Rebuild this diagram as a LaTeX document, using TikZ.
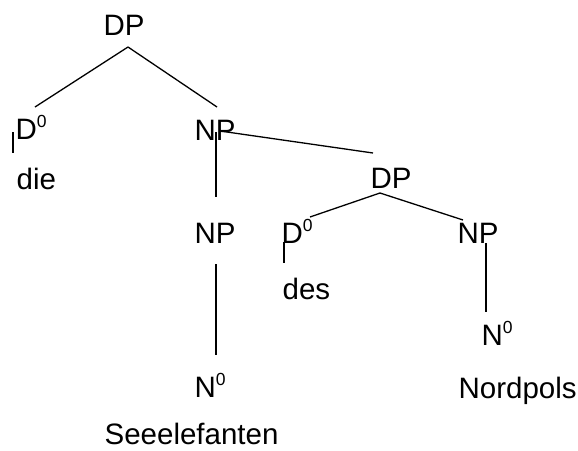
\documentclass[tikz,border=0pt]{standalone}
\usepackage{fontspec}
\setmainfont{Liberation Sans}
\usetikzlibrary{positioning}
\newcommand{\nullsup}{\raisebox{12pt}{\fontsize{17.5}{17.5}\selectfont 0}}

\begin{document}
\begin{tikzpicture}[x=1pt,y=-1pt,
    cat/.style={inner sep=0pt,anchor=base west,font=\fontsize{29.5}{35}\selectfont},
    every path/.style={line width=1.3pt}]
  \useasboundingbox (0,0) rectangle (578,450);

  \node[cat] (dpA)  at (103,35)  {DP};
  \node[cat] (dA)   at (15,139)  {D\nullsup};
  \node[cat] (npA)  at (194,140) {NP};
  \node[cat] (dieA) at (16,189)  {die};
  \node[cat] (npB)  at (194,243) {NP};
  \node[cat] (nA)   at (194,397) {N\nullsup};
  \node[cat] (seeA) at (104,444) {Seeelefanten};
  \node[cat] (dpB)  at (370,188) {DP};
  \node[cat] (dB)   at (281,243) {D\nullsup};
  \node[cat] (npC)  at (457,243) {NP};
  \node[cat] (desA) at (282,299) {des};
  \node[cat] (nB)   at (481,345) {N\nullsup};
  \node[cat] (nordA) at (458,398) {Nordpols};

  \draw ([shift={(25,12)}]dpA.base west) -- ([shift={(20,-32)}]dA.base west);
  \draw ([shift={(25,12)}]dpA.base west) -- ([shift={(23,-33)}]npA.base west);
  \draw ([shift={(-2,-7)}]dA.base west) -- ([shift={(-3,-36)}]dieA.base west);
  \draw ([shift={(22,-8)}]npA.base west) -- ([shift={(22,-46)}]npB.base west);
  \draw ([shift={(26,-9)}]npA.base west) -- ([shift={(3,-35)}]dpB.base west);
  \draw ([shift={(22,21)}]npB.base west) -- ([shift={(22,-42)}]nA.base west);
  \draw ([shift={(10,5)}]dpB.base west) -- ([shift={(29,-26)}]dB.base west);
  \draw ([shift={(10,5)}]dpB.base west) -- ([shift={(6,-23)}]npC.base west);
  \draw ([shift={(3,-1)}]dB.base west) -- ([shift={(2,-36)}]desA.base west);
  \draw ([shift={(29,0)}]npC.base west) -- ([shift={(5,-33)}]nB.base west);
\end{tikzpicture}
\end{document}
